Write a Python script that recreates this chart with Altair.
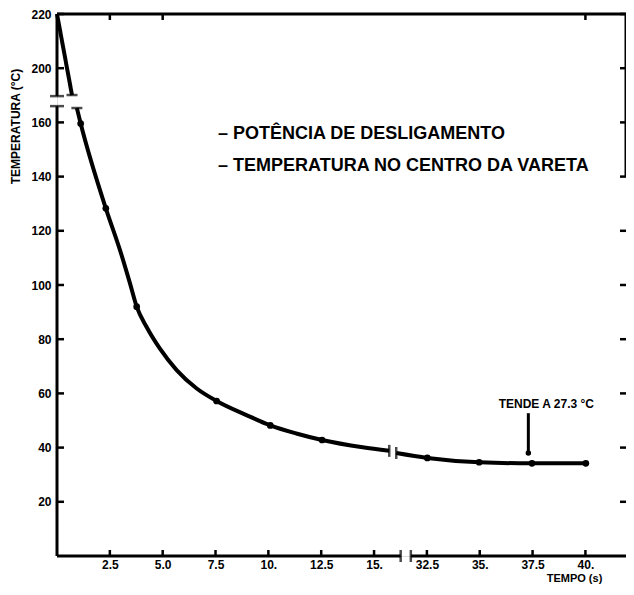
import altair as alt
import pandas as pd

tempo = [0.0, 0.71, 0.94, 1.12, 2.31, 2.98, 3.45, 3.77, 4.24, 4.87, 5.66, 6.61, 7.55, 8.96,
         10.09, 11.32, 12.54, 14.46, 15.72, 31.05, 32.52, 34.97, 37.47, 40.02]
temperatura = [220.0, 190.1, 165.3, 159.6, 128.3, 112.9, 100.7, 92.0, 84.5, 76.5, 68.6, 61.8, 57.2, 52.0,
               48.2, 45.2, 42.8, 40.1, 38.8, 38.0, 36.2, 34.6, 34.2, 34.2]
trecho = [1, 1] + [2] * 17 + [3] * 5
marcado = [0, 0, 0, 1, 1, 0, 0, 1, 0, 0, 0, 0, 1, 0, 1, 0, 1, 0, 0, 0, 1, 1, 1, 1]

x_tick_vals = [2.5, 5, 7.5, 10, 12.5, 15, 32.5, 35, 37.5, 40]
x_tick_labels = ["2.5", "5.0", "7.5", "10.", "12.5", "15.", "32.5", "35.", "37.5", "40."]
y_tick_vals = [20, 40, 60, 80, 100, 120, 140, 160, 200, 220]
y_tick_labels = ["20", "40", "60", "80", "100", "120", "140", "160", "200", "220"]
top_tick_vals = [2.5, 5, 40]

legend_lines = ["\u2013 POT\u00caNCIA  DE  DESLIGAMENTO", "\u2013 TEMPERATURA NO CENTRO DA VARETA"]
annot_text = "TENDE  A  27.3 \u00b0C"
annot_t, annot_T_text, annot_T_top, annot_T_bot = 37.3, 56.0, 52.7, 38.0

# axis breaks (real units)
X_SHIFT, X_FROM = 15, 20      # t >= 20 drawn at t - 15
Y_SHIFT, Y_FROM = 20, 180     # T >= 180 drawn at T - 20
x_break = [16.26, 31.74]
y_break = [166.0, 189.7]
x_max_real, y_max_real = 41.92, 220.0


def dx(t):
    return t - X_SHIFT if t >= X_FROM else t


def dy(v):
    return v - Y_SHIFT if v >= Y_FROM else v


XMAX, YMAX = dx(x_max_real), dy(y_max_real)
W, H = 569, 542
FONT = "Liberation Sans"

curve = pd.DataFrame({"t": tempo, "T": temperatura, "seg": trecho, "dot": marcado})
curve["x"] = curve["t"].map(dx)
curve["y"] = curve["T"].map(dy)

xs = alt.Scale(domain=[0, XMAX], nice=False, zero=False)
ys = alt.Scale(domain=[0, YMAX], nice=False, zero=False)


def expr(vals, labels):
    e = "''"
    for v, l in reversed(list(zip(vals, labels))):
        e = f"abs(datum.value - {v}) < 0.01 ? '{l}' : ({e})"
    return e


x_disp = [dx(v) for v in x_tick_vals]
y_disp = [dy(v) for v in y_tick_vals]

x_axis = alt.Axis(values=x_disp, labelExpr=expr(x_disp, x_tick_labels), ticks=False, domain=False,
                  grid=False, labelPadding=3, labelFont=FONT, labelFontSize=12, labelFontWeight="bold",
                  labelColor="black", title="TEMPO (s)", titleFont=FONT, titleFontSize=11,
                  titleFontWeight="bold", titleColor="black", titleX=517, titleY=22,
                  titleAlign="center", titleBaseline="middle", labelFlush=False, labelOverlap=False)
y_axis = alt.Axis(values=y_disp, labelExpr=expr(y_disp, y_tick_labels), ticks=False, domain=False,
                  grid=False, labelPadding=6, labelFont=FONT, labelFontSize=12, labelFontWeight="bold",
                  labelColor="black", title="TEMPERATURA (\u00b0C)", titleFont=FONT, titleFontSize=12,
                  titleFontWeight="bold", titleColor="black", titleX=-42, titleY=112, titleAngle=270,
                  titleAlign="center", titleBaseline="middle", labelFlush=False, labelOverlap=False)


def X(f):
    return alt.X(f, scale=xs, axis=x_axis)


def Y(f):
    return alt.Y(f, scale=ys, axis=y_axis)


line = alt.Chart(curve).mark_line(color="black", strokeWidth=4, interpolate="monotone").encode(
    x=X("x:Q"), y=Y("y:Q"), detail="seg:N")
dots = alt.Chart(curve).transform_filter("datum.dot == 1").mark_circle(
    color="black", opacity=1, size=45).encode(x=X("x:Q"), y=Y("y:Q"))

# axis lines (with breaks) and frame
frame = pd.DataFrame({
    "x": [0, 0, 0, dx(x_break[1]), 0, XMAX],
    "x2": [0, 0, dx(x_break[0]), XMAX, XMAX, XMAX],
    "y": [0, dy(y_break[1]), 0, 0, YMAX, 140],
    "y2": [y_break[0], YMAX, 0, 0, YMAX, YMAX],
})
frame_rules = alt.Chart(frame).mark_rule(color="black", strokeWidth=3).encode(
    x=X("x:Q"), x2="x2:Q", y=Y("y:Q"), y2="y2:Q")

yt = pd.DataFrame({"y": y_disp})
xt = pd.DataFrame({"x": x_disp})
tt = pd.DataFrame({"x": [dx(v) for v in top_tick_vals]})
y_ticks = alt.Chart(yt).mark_rule(color="black", strokeWidth=2.5).encode(
    y=Y("y:Q"), x=alt.value(0), x2=alt.value(7))
r_ticks = alt.Chart(yt).mark_rule(color="black", strokeWidth=2.5).encode(
    y=Y("y:Q"), x=alt.value(W - 6), x2=alt.value(W))
x_ticks = alt.Chart(xt).mark_rule(color="black", strokeWidth=2.5).encode(
    x=X("x:Q"), y=alt.value(H), y2=alt.value(H - 6))
top_ticks = alt.Chart(tt).mark_rule(color="black", strokeWidth=2.5).encode(
    x=X("x:Q"), y=alt.value(0), y2=alt.value(6))

# break marks
seg1 = curve[curve["seg"] == 1]
seg2 = curve[curve["seg"] == 2]
seg3 = curve[curve["seg"] == 3]
ybm = pd.DataFrame({"x": [0, 0], "y": [y_break[0], dy(y_break[1])]})
xbm = pd.DataFrame({"x": [dx(x_break[0]), dx(x_break[1])], "y": [0, 0]})
cyb = pd.DataFrame({"x": [seg1["x"].iloc[-1], seg2["x"].iloc[0]], "y": [seg1["y"].iloc[-1], seg2["y"].iloc[0]]})
cxb = pd.DataFrame({"x": [seg2["x"].iloc[-1], seg3["x"].iloc[0]], "y": [seg2["y"].iloc[-1], seg3["y"].iloc[0]]})
y_bm = alt.Chart(ybm).mark_tick(orient="horizontal", color="black", size=14, thickness=2.5).encode(
    x=X("x:Q"), y=Y("y:Q"))
x_bm = alt.Chart(xbm).mark_tick(orient="vertical", color="black", size=12, thickness=2.5).encode(
    x=X("x:Q"), y=Y("y:Q"))
cy_bm = alt.Chart(cyb).mark_tick(orient="horizontal", color="black", size=11, thickness=2.5).encode(
    x=X("x:Q"), y=Y("y:Q"))
cx_bm = alt.Chart(cxb).mark_tick(orient="vertical", color="black", size=12, thickness=2.5).encode(
    x=X("x:Q"), y=Y("y:Q"))

# legend text
leg_style = dict(align="left", baseline="middle", font=FONT, fontSize=18, fontWeight="bold", color="black")
legend1 = alt.Chart(pd.DataFrame({"txt": [legend_lines[0]]})).mark_text(**leg_style).encode(
    text="txt:N", x=alt.value(161), y=alt.value(120))
legend2 = alt.Chart(pd.DataFrame({"txt": [legend_lines[1]]})).mark_text(**leg_style).encode(
    text="txt:N", x=alt.value(161), y=alt.value(152))

# annotation
ann = pd.DataFrame({"x": [dx(annot_t)], "yt": [annot_T_text], "y1": [annot_T_top], "y2": [annot_T_bot],
                    "txt": [annot_text]})
ann_text = alt.Chart(ann).mark_text(font=FONT, fontSize=12, fontWeight="bold", color="black",
                                    baseline="middle", align="center", dx=18).encode(
    x=X("x:Q"), y=Y("yt:Q"), text="txt:N")
ann_rule = alt.Chart(ann).mark_rule(color="black", strokeWidth=3).encode(
    x=X("x:Q"), y=Y("y1:Q"), y2="y2:Q")
ann_dot = alt.Chart(ann).mark_circle(color="black", opacity=1, size=30).encode(
    x=X("x:Q"), y=Y("y2:Q"))

chart = alt.layer(
    line, dots, frame_rules, y_ticks, r_ticks, x_ticks, top_ticks,
    y_bm, x_bm, cy_bm, cx_bm, legend1, legend2, ann_text, ann_rule, ann_dot
).properties(
    width=W, height=H,
    autosize=alt.AutoSizeParams(type="none"),
    padding={"left": 49, "top": 6, "right": 0, "bottom": 28},
).configure_view(stroke=None).configure(background="white")

chart.save("out.html", embed_options={"renderer": "svg", "actions": False})
